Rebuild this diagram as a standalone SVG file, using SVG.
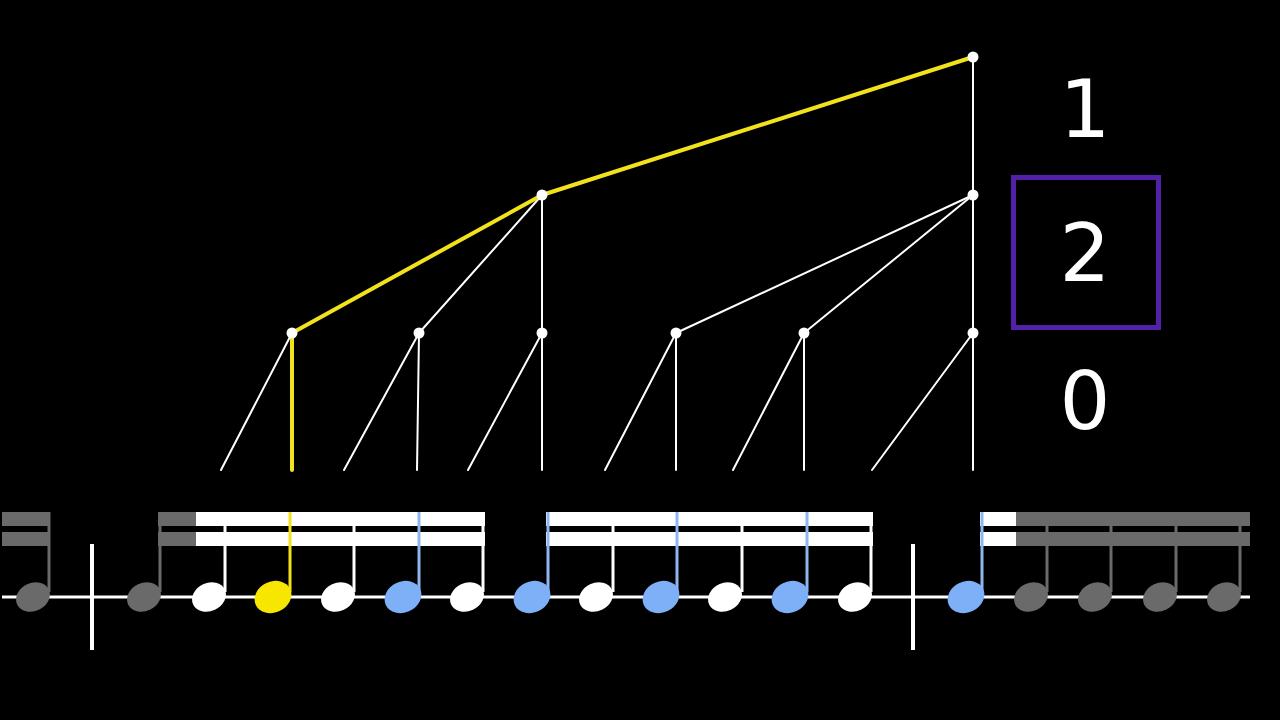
<svg xmlns="http://www.w3.org/2000/svg" width="1280" height="720" viewBox="0 0 1280 720">
<style>
.w{stroke:#fff;stroke-width:2;fill:none;stroke-linecap:round}
.y{stroke:#f2e21c;stroke-width:4;fill:none;stroke-linecap:round;stroke-linejoin:round}
.dot{fill:#fff}
.lbl{font-family:"DejaVu Sans",sans-serif;font-size:80px;fill:#fff;text-anchor:middle}
.stemW{stroke:#fff;stroke-width:3}
.stemG{stroke:#6a6a6a;stroke-width:3}
.stemB{stroke:#8fb6ee;stroke-width:3}
.stemY{stroke:#f2e21c;stroke-width:3}
.hW{fill:#fff}
.hG{fill:#6a6a6a}
.hB{fill:#7db0f7}
.hY{fill:#f7e600}
.bW{fill:#fff}
.bG{fill:#6a6a6a}
</style>
<defs>
<ellipse id="head" cx="0" cy="0" rx="17.5" ry="14" transform="rotate(-25)"/>
<ellipse id="headL" cx="0" cy="0" rx="19" ry="15.5" transform="rotate(-25)"/>
</defs>
<rect width="1280" height="720" fill="#000"/>

<g id="connectors">
<line class="w" x1="973" y1="57" x2="973" y2="470"/>
<line class="w" x1="973" y1="195" x2="676" y2="333"/>
<line class="w" x1="973" y1="195" x2="804" y2="333"/>
<line class="w" x1="542" y1="195" x2="419" y2="333"/>
<line class="w" x1="542" y1="195" x2="542" y2="470"/>
<line class="w" x1="292" y1="333" x2="221" y2="470"/>
<line class="w" x1="419" y1="333" x2="344" y2="470"/>
<line class="w" x1="419" y1="333" x2="417" y2="470"/>
<line class="w" x1="542" y1="333" x2="468" y2="470"/>
<line class="w" x1="676" y1="333" x2="605" y2="470"/>
<line class="w" x1="676" y1="333" x2="676" y2="470"/>
<line class="w" x1="804" y1="333" x2="733" y2="470"/>
<line class="w" x1="804" y1="333" x2="804" y2="470"/>
<line class="w" x1="973" y1="333" x2="872" y2="470"/>
<polyline class="y" points="292,470 292,333 542,195 973,57"/>
</g>

<g id="node-l2"><circle class="dot" cx="973" cy="57" r="5.5"/></g>
<g id="node-l1a"><circle class="dot" cx="542" cy="195" r="5.5"/></g>
<g id="node-l1b"><circle class="dot" cx="973" cy="195" r="5.5"/></g>
<g id="node-l0a"><circle class="dot" cx="292" cy="333" r="5.5"/></g>
<g id="node-l0b"><circle class="dot" cx="419" cy="333" r="5.5"/></g>
<g id="node-l0c"><circle class="dot" cx="542" cy="333" r="5.5"/></g>
<g id="node-l0d"><circle class="dot" cx="676" cy="333" r="5.5"/></g>
<g id="node-l0e"><circle class="dot" cx="804" cy="333" r="5.5"/></g>
<g id="node-l0f"><circle class="dot" cx="973" cy="333" r="5.5"/></g>

<g id="labels">
<text class="lbl" x="1085" y="137">1</text>
<rect x="1013.5" y="177.5" width="145" height="150" fill="none" stroke="#5321a8" stroke-width="5"/>
<text class="lbl" x="1085" y="281">2</text>
<text class="lbl" x="1085" y="429">0</text>
</g>

<g id="staff">
<line x1="2" y1="597" x2="1250" y2="597" stroke="#fff" stroke-width="3"/>
<line x1="92" y1="544" x2="92" y2="650" stroke="#fff" stroke-width="4"/>
<line x1="913" y1="544" x2="913" y2="650" stroke="#fff" stroke-width="4"/>
</g>

<g id="beams">
<rect class="bG" x="2" y="512" width="48" height="14"/>
<rect class="bG" x="2" y="532" width="48" height="14"/>
<rect class="bG" x="158" y="512" width="38" height="14"/>
<rect class="bG" x="158" y="532" width="38" height="14"/>
<rect class="bW" x="196" y="512" width="289" height="14"/>
<rect class="bW" x="196" y="532" width="289" height="14"/>
<rect class="bW" x="546" y="512" width="327" height="14"/>
<rect class="bW" x="546" y="532" width="327" height="14"/>
<rect class="bW" x="980" y="512" width="36" height="14"/>
<rect class="bW" x="980" y="532" width="36" height="14"/>
<rect class="bG" x="1016" y="512" width="234" height="14"/>
<rect class="bG" x="1016" y="532" width="234" height="14"/>
</g>

<g id="stems">
<line class="stemG" x1="49" y1="512" x2="49" y2="592"/>
<line class="stemG" x1="160" y1="512" x2="160" y2="592"/>
<line class="stemW" x1="225" y1="512" x2="225" y2="592"/>
<line class="stemY" x1="290" y1="512" x2="290" y2="592"/>
<line class="stemW" x1="354" y1="512" x2="354" y2="592"/>
<line class="stemB" x1="419" y1="512" x2="419" y2="592"/>
<line class="stemW" x1="483" y1="512" x2="483" y2="592"/>
<line class="stemB" x1="548" y1="512" x2="548" y2="592"/>
<line class="stemW" x1="613" y1="512" x2="613" y2="592"/>
<line class="stemB" x1="677" y1="512" x2="677" y2="592"/>
<line class="stemW" x1="742" y1="512" x2="742" y2="592"/>
<line class="stemB" x1="807" y1="512" x2="807" y2="592"/>
<line class="stemW" x1="871" y1="512" x2="871" y2="592"/>
<line class="stemB" x1="982" y1="512" x2="982" y2="592"/>
<line class="stemG" x1="1047" y1="512" x2="1047" y2="592"/>
<line class="stemG" x1="1111" y1="512" x2="1111" y2="592"/>
<line class="stemG" x1="1176" y1="512" x2="1176" y2="592"/>
<line class="stemG" x1="1240" y1="512" x2="1240" y2="592"/>
</g>

<g id="heads">
<use href="#head" class="hG" x="33" y="597"/>
<use href="#head" class="hG" x="144" y="597"/>
<use href="#head" class="hW" x="209" y="597"/>
<use href="#headL" class="hY" x="273" y="597"/>
<use href="#head" class="hW" x="338" y="597"/>
<use href="#headL" class="hB" x="403" y="597"/>
<use href="#head" class="hW" x="467" y="597"/>
<use href="#headL" class="hB" x="532" y="597"/>
<use href="#head" class="hW" x="596" y="597"/>
<use href="#headL" class="hB" x="661" y="597"/>
<use href="#head" class="hW" x="725" y="597"/>
<use href="#headL" class="hB" x="790" y="597"/>
<use href="#head" class="hW" x="855" y="597"/>
<use href="#headL" class="hB" x="966" y="597"/>
<use href="#head" class="hG" x="1031" y="597"/>
<use href="#head" class="hG" x="1095" y="597"/>
<use href="#head" class="hG" x="1160" y="597"/>
<use href="#head" class="hG" x="1224" y="597"/>
</g>
</svg>
